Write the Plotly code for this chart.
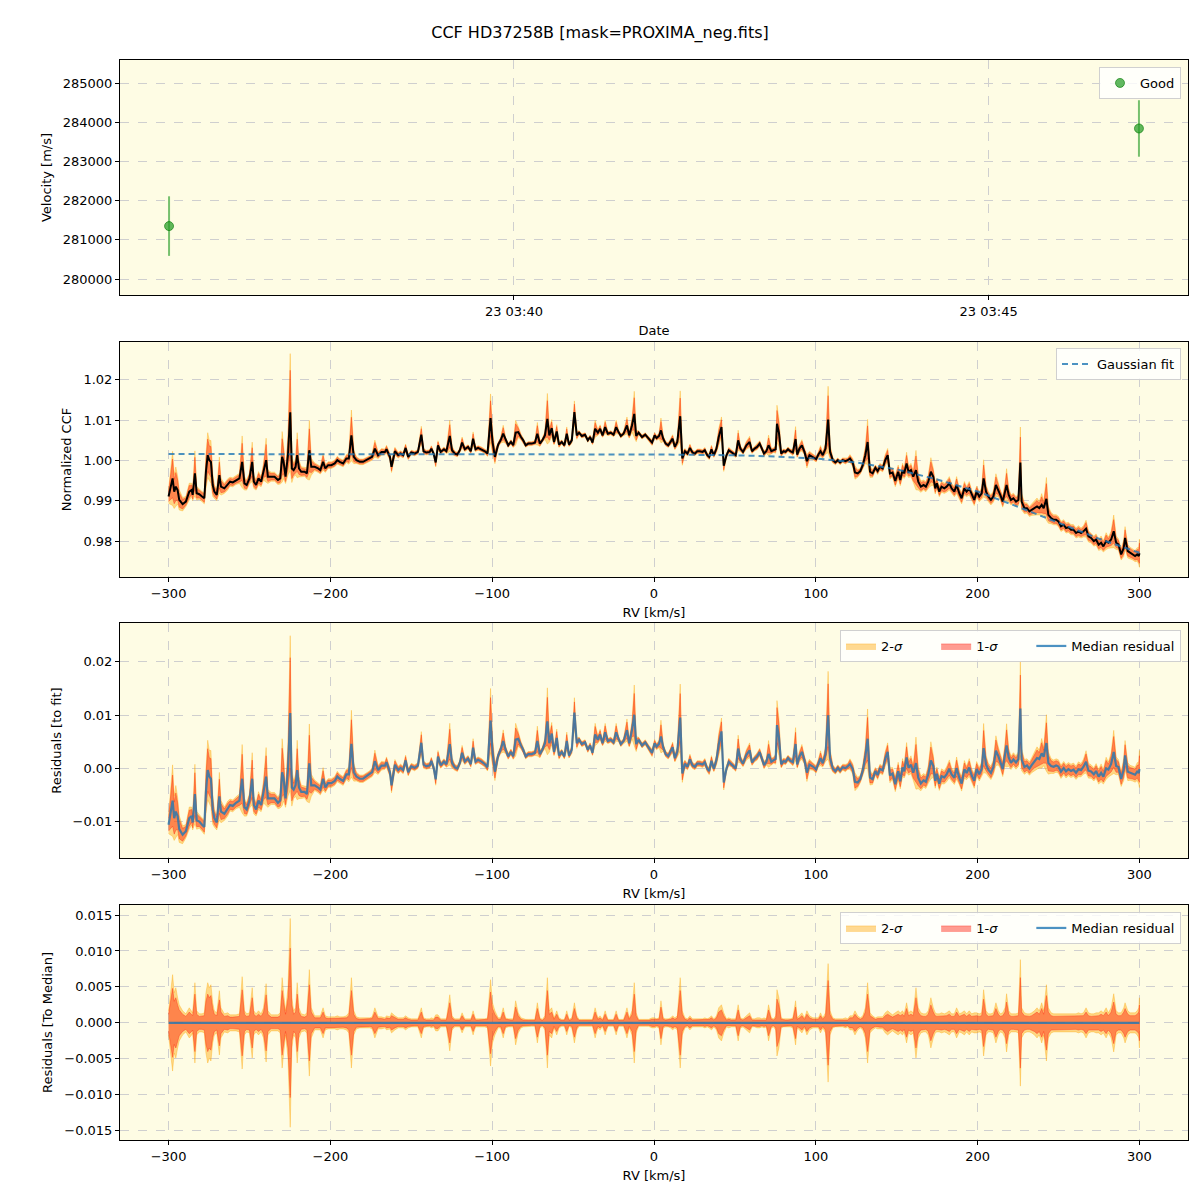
import numpy as np
import plotly.graph_objects as go

TITLE = "CCF HD37258B [mask=PROXIMA_neg.fits]"

# ---- top panel: RV time series ----
OBS_TIME = ["2021-11-23 03:36:22", "2021-11-23 03:46:35"]
OBS_VEL = [281350, 283840]
OBS_ERR = [760, 720]

# ---- CCF (median over observations): RV [km/s], (CCF-1) in per mille, 1-sigma half width in per mille ----
RV = [
    -300.0, -297.5, -296.5, -295.5, -294.4, -293.4, -291.3, -289.3, -287.2, -285.7, -285.1, -283.7, -282.6, -281.0,
    -279.3, -277.9, -276.9, -275.8, -274.8, -273.8, -272.7, -271.7, -270.2, -268.6, -267.6, -265.5, -263.4, -262.0,
    -260.3, -258.3, -256.2, -254.5, -253.1, -251.7, -250.0, -248.3, -247.3, -245.9, -244.4, -242.8, -241.3, -239.7,
    -238.6, -236.6, -234.5, -232.4, -231.0, -229.8, -228.9, -227.7, -226.2, -224.8, -223.8, -222.7, -221.5, -220.5,
    -219.4, -218.0, -215.9, -214.5, -213.0, -211.8, -209.7, -207.6, -206.2, -204.5, -203.1, -201.4, -199.4, -197.3,
    -195.7, -194.2, -192.1, -190.1, -188.6, -187.0, -185.5, -183.9, -181.8, -179.8, -177.7, -175.6, -174.2, -172.5,
    -170.5, -168.4, -166.3, -165.3, -163.2, -162.2, -160.1, -158.1, -156.6, -155.0, -153.5, -151.9,
    -150.0, -147.9, -145.9, -143.8, -142.4, -140.7, -138.6, -137.6, -136.2, -134.9, -133.5, -131.8, -129.8, -128.3,
    -126.2, -124.8, -123.1, -121.5, -120.0, -118.6, -116.9, -114.9, -113.2, -111.8, -110.3, -108.7, -106.6, -104.5,
    -102.9, -101.0, -99.8, -98.3, -96.3, -94.8, -93.2, -91.7, -90.1, -88.4, -87.0, -85.5, -83.9, -82.2, -80.8,
    -79.3, -77.7, -75.6, -73.6, -72.1, -70.5, -69.0, -67.4, -65.9, -64.7, -63.2, -61.8, -60.1, -58.7, -57.0, -55.4,
    -53.9, -52.5, -50.8, -49.2, -47.7, -46.3, -44.6, -42.6, -40.9, -39.5, -38.0, -36.4, -34.7, -33.3, -31.8, -30.2,
    -28.5, -26.7, -25.0, -23.4, -21.9, -20.5, -18.8, -16.7, -15.3, -13.6, -12.2, -11.0, -9.5, -7.4, -5.4, -3.3,
    -1.2, 0.4,
    1.6, 3.1, 4.3, 5.7, 7.2, 8.8, 10.3, 11.5, 12.9, 14.4, 16.2, 17.5, 19.1, 20.7, 22.2, 23.8, 25.3, 26.7, 28.3, 30.0,
    31.4, 32.9, 34.1, 35.5, 37.0, 38.6, 40.0, 41.7, 43.1, 44.8, 46.2, 47.8, 49.3, 50.5, 52.0, 53.4, 55.0, 57.1, 59.1,
    60.6, 62.2, 63.7, 65.3, 66.7, 68.0, 69.4, 70.8, 72.5, 73.9, 75.2, 76.0, 77.2, 78.6, 80.1, 81.3, 82.8, 84.2, 85.8,
    87.5, 88.5, 89.9, 91.4, 93.0, 94.5, 96.1, 98.2, 100.2, 101.6, 102.9, 104.3, 106.0, 107.6, 108.8, 110.5, 112.1,
    113.6, 115.0, 116.6, 118.3, 119.7, 121.1, 122.8, 124.2, 125.9, 127.5, 129.0, 130.6, 132.0, 133.5, 135.1, 136.8,
    138.2, 139.6, 141.3, 142.9, 144.4, 145.8, 147.4, 149.1,
    150.9, 152.2, 153.6, 154.6, 156.1, 157.3, 158.8, 160.2, 161.9, 163.3, 164.9, 166.6, 168.0, 169.5, 171.1, 172.6,
    173.8, 174.8, 176.3, 177.7, 179.4, 180.8, 182.5, 183.9, 185.6, 187.0, 188.7, 190.1, 191.8, 193.2, 194.8, 196.3,
    197.9, 199.4, 201.0, 202.5, 203.7, 205.2, 206.6, 208.2, 209.7, 211.3, 212.8, 214.0, 215.5, 216.9, 217.9, 219.2,
    220.6, 222.1, 223.7, 225.2, 226.4, 227.2, 228.9, 230.5, 232.0, 233.4, 235.1, 236.7, 238.1, 239.6, 240.8, 242.5,
    243.7, 245.4, 247.0, 248.5, 249.9, 251.5, 253.2, 254.6, 256.1, 257.7, 259.2, 260.8, 262.3, 263.9, 265.4, 267.0,
    268.5, 270.1, 271.8, 273.2, 274.8, 276.3, 277.7, 279.4, 280.8, 282.5, 284.1, 285.6, 287.0, 288.7, 290.3, 291.1,
    292.8, 294.2, 295.9, 297.3, 298.6, 299.6, 300.0,
]
CCF_PERMIL = [
    -8.95, -4.43, -7.72, -6.49, -7.31, -9.77, -10.84, -10.18, -7.72, -7.31, -8.54, -3.20, -8.13, -8.37,
    -8.95, -9.36, -2.79, 1.31, 0.08, -0.33, -6.08, -7.72, -8.54, -3.61, -6.49, -6.90, -5.91, -5.25,
    -5.42, -4.84, -4.43, -0.33, -5.67, -6.08, -4.43, -0.33, -5.25, -6.08, -4.43, -5.25, -2.79, 0.08,
    -4.02, -4.02, -4.02, -4.84, -4.43, 0.90, -0.33, -4.02, 1.31, 11.99, -1.97, -2.38, -1.56, 1.31,
    -1.97, -2.79, -2.79, -3.20, 2.55, -1.56, -1.56, -1.97, -2.38, -0.33, -1.97, -1.15, -1.15, -0.74,
    0.08, -0.33, -0.74, 0.49, 0.49, 6.24, 0.90, 0.08, -0.33, -0.33, 0.08, 0.49, 0.90, 2.96,
    1.31, 2.13, 2.13, 2.79, 0.90, -1.56, 2.30, 1.31, 1.72, 1.31, 3.12, 0.90,
    2.00, 1.72, 2.13, 6.40, 2.30, 1.97, 2.13, 2.96, 1.72, -0.49, 3.78, 2.13, 2.79, 2.30,
    6.08, 2.55, 1.72, 1.48, 2.55, 4.43, 2.79, 3.37, 2.30, 5.42, 2.79, 3.12, 2.79, 2.30,
    1.72, 10.51, 4.60, 0.90, 3.94, 5.01, 6.65, 5.01, 3.78, 4.60, 3.78, 6.90, 7.06, 5.83, 5.01,
    3.78, 4.19, 4.19, 4.43, 6.65, 4.19, 5.01, 6.24, 10.35, 6.24, 8.05, 4.60, 7.22, 3.94, 4.60, 3.78,
    6.65, 3.94, 5.01, 11.99, 6.24, 6.90, 6.08, 6.40, 5.01, 5.83, 4.43, 7.88, 6.90, 7.88, 6.24, 8.29,
    6.65, 6.90, 6.40, 8.29, 7.06, 6.08, 6.65, 8.70, 6.24, 8.70, 11.58, 6.08, 6.90, 5.83, 6.40, 5.42,
    4.43, 6.24,
    5.58, 6.08, 7.47, 5.42, 4.19, 3.78, 4.60, 5.42, 3.37, 4.60, 10.99, 0.49, 2.30, 1.72, 3.12, 1.97, 1.72, 2.30, 2.30, 2.13,
    2.55, 1.31, 0.90, 2.79, 1.31, 2.96, 5.83, 8.29, -1.31, 1.31, 2.55, 2.13, 1.72, 1.31, 5.01, 2.96, 2.13, 3.78, 4.60,
    2.30, 2.96, 3.37, 4.19, 2.96, 1.72, 2.30, 3.78, 2.30, 2.55, 2.79, 9.11, 6.90, 1.72, 2.30, 2.13, 2.79, 2.30, 1.97,
    5.34, 1.48, 2.96, 3.78, 2.13, -0.16, 1.31, 0.90, 0.33, 1.48, 2.30, 1.31, 2.96, 10.18, 2.13, 0.08, -0.49,
    0.08, -0.49, 0.08, -0.16, 0.08, 0.49, -0.49, -2.96, -3.20, -2.63, -1.15, 1.31, 4.60, -2.79, -3.20, -1.81,
    -2.63, -1.56, -1.97, 0.08, 1.31, -3.20, -2.96, -5.09,
    -2.79, -4.84, -2.38, -3.20, -0.74, -2.79, -2.38, -4.02, -2.38, -5.25, -6.49, -6.08, -6.49, -5.25, -2.79, -4.02,
    -6.90, -5.67, -7.72, -6.49, -6.90, -6.49, -5.67, -6.90, -7.72, -6.08, -8.13, -9.36, -6.90, -7.72, -6.90, -8.54,
    -9.77, -7.72, -8.95, -8.13, -4.43, -7.72, -8.95, -9.77, -8.95, -6.08, -7.31, -8.54, -10.18, -7.72, -6.08, -8.54,
    -9.77, -9.36, -10.18, -9.77, -0.49, -10.18, -11.82, -11.82, -12.64, -12.23, -11.82, -11.41, -11.82, -11.00, -11.82, -9.52,
    -13.46, -14.29, -14.70, -14.70, -15.11, -16.34, -15.93, -16.75, -16.58, -17.16, -17.16, -17.98, -17.57, -17.98, -17.57, -16.91,
    -18.80, -19.20, -20.00, -19.60, -20.90, -20.40, -21.30, -20.00, -20.40, -19.60, -17.57, -20.40, -20.80, -23.30, -21.70, -19.20,
    -22.50, -22.90, -23.30, -23.70, -23.30, -23.70, -23.00,
]
SIG1_PERMIL = [
    1.2, 4.8, 3.0, 3.5, 2.5, 1.8, 1.2, 0.9, 1.5, 1.2, 1.0, 4.0, 1.2, 0.9,
    0.9, 1.0, 3.0, 4.0, 3.5, 3.8, 2.0, 1.2, 1.0, 3.2, 1.5, 0.9, 1.0, 0.8,
    0.8, 0.8, 0.9, 4.6, 1.2, 0.9, 1.0, 3.5, 1.2, 0.9, 1.2, 0.9, 1.5, 3.9,
    1.2, 0.8, 0.8, 0.8, 1.0, 4.5, 3.0, 1.2, 3.5, 10.4, 2.5, 1.2, 1.5, 4.0,
    1.5, 0.9, 0.8, 1.0, 5.3, 1.5, 0.7, 0.7, 0.7, 1.5, 0.7, 0.6, 0.6, 0.6,
    0.7, 0.6, 0.6, 0.7, 1.0, 4.5, 1.2, 0.6, 0.5, 0.5, 0.5, 0.5, 0.6, 1.5,
    0.6, 0.6, 0.5, 0.7, 0.6, 1.0, 0.7, 0.5, 0.5, 0.5, 0.7, 0.5,
    0.4, 0.4, 0.4, 1.5, 0.5, 0.4, 0.4, 0.5, 0.4, 0.8, 0.8, 0.4, 0.4, 0.4,
    2.8, 0.7, 0.4, 0.4, 0.4, 1.0, 0.4, 0.4, 0.4, 1.2, 0.4, 0.4, 0.4, 0.4,
    0.5, 4.3, 2.0, 1.2, 0.5, 0.5, 1.5, 0.5, 0.4, 0.4, 0.4, 2.2, 1.0, 0.5, 0.4,
    0.35, 0.35, 0.35, 0.35, 2.0, 0.5, 0.35, 0.7, 4.5, 1.2, 1.5, 0.5, 1.2, 0.5, 0.35, 0.35,
    1.2, 0.35, 0.5, 2.0, 0.7, 0.35, 0.35, 0.35, 0.35, 0.35, 0.35, 1.5, 0.5, 0.7, 0.35, 1.2,
    0.35, 0.35, 0.35, 1.2, 0.35, 0.35, 0.35, 1.5, 0.5, 1.2, 4.0, 1.0, 0.35, 0.35, 0.35, 0.35,
    0.5, 0.5,
    0.4, 0.5, 2.2, 0.5, 0.4, 0.4, 0.5, 0.7, 0.5, 0.7, 4.5, 1.2, 0.5, 0.4, 0.7, 0.4, 0.4, 0.4, 0.4, 0.4,
    0.5, 0.4, 0.5, 0.7, 0.4, 0.7, 1.5, 1.8, 1.0, 0.4, 0.5, 0.4, 0.4, 0.4, 1.8, 0.5, 0.4, 0.7, 1.0,
    0.4, 0.4, 0.5, 0.5, 0.4, 0.5, 0.4, 1.8, 0.5, 0.4, 0.7, 3.3, 2.5, 0.5, 0.4, 0.4, 0.4, 0.4, 0.5,
    2.2, 0.5, 0.7, 1.0, 0.5, 1.2, 0.7, 0.5, 0.5, 0.5, 1.0, 0.5, 1.0, 5.9, 1.2, 0.5, 0.4,
    0.4, 0.4, 0.4, 0.5, 0.4, 0.7, 0.7, 1.2, 0.7, 0.5, 0.7, 1.5, 4.0, 1.0, 0.7, 0.5,
    0.6, 0.6, 0.6, 1.0, 1.2, 1.0, 0.8, 1.0,
    1.2, 1.0, 1.2, 0.9, 2.0, 1.0, 1.2, 1.0, 3.5, 1.5, 1.0, 0.9, 0.9, 1.2, 2.5, 1.5,
    1.0, 0.9, 0.9, 1.0, 0.9, 1.0, 1.2, 0.9, 0.9, 1.5, 0.9, 1.0, 1.2, 0.9, 1.2, 0.9,
    1.0, 1.0, 0.9, 1.0, 3.3, 1.2, 0.9, 0.9, 1.0, 2.0, 1.2, 0.9, 1.0, 1.5, 2.9, 1.2,
    0.9, 0.9, 0.9, 1.0, 6.3, 1.5, 1.0, 0.9, 0.9, 1.0, 1.2, 1.5, 1.2, 2.0, 1.2, 3.8,
    1.5, 1.0, 0.9, 0.9, 0.9, 0.9, 0.9, 0.9, 0.9, 0.9, 0.9, 0.9, 1.0, 0.9, 1.0, 1.5,
    1.0, 0.9, 0.9, 1.0, 1.0, 1.2, 1.0, 1.5, 1.0, 1.5, 2.9, 1.2, 1.0, 1.0, 1.5, 2.0,
    1.2, 1.0, 1.0, 1.0, 1.2, 1.5, 2.5,
]

# ---- Gaussian fit curve ----
FIT_RV = [-300, -275, -250, -225, -200, -175, -150, -125, -100, -75, -50, -25, 0,
          25, 50, 75, 100, 125, 150, 175, 200, 225, 250, 275, 300]
FIT_CCF = [1.0016, 1.0016, 1.0016, 1.0016, 1.0016, 1.0016, 1.0016, 1.0015, 1.0015, 1.0015, 1.0015, 1.0015, 1.0015,
           1.0014, 1.0013, 1.0010, 1.0005, 0.9995, 0.9978, 0.9953, 0.9923, 0.9885, 0.9845, 0.9806, 0.9771]

# ---- derived quantities ----
rv = np.array(RV)
ccf = 1.0 + np.array(CCF_PERMIL) / 1000.0
s1 = np.array(SIG1_PERMIL) / 1000.0
s2 = s1 * (0.475 / 0.34)  # 2.5-97.5 vs 16-84 percentile half widths
fit_at_rv = np.interp(rv, FIT_RV, FIT_CCF)
res = ccf - fit_at_rv

BG = "#FEFCE4"
C2 = "rgba(255,165,0,0.42)"
C1 = "rgba(255,20,0,0.42)"
BLUE = "rgba(31,119,180,0.8)"
FONT = "DejaVu Sans"
NB = "\u00a0" * 7

fig = go.Figure()


def band(center, half, color, name, xa, ya, legend, show):
    xs = np.concatenate([rv, rv[::-1]])
    ys = np.concatenate([center + half, (center - half)[::-1]])
    fig.add_trace(go.Scatter(x=xs, y=ys, fill="toself", fillcolor=color, mode="lines",
                             line=dict(color=color, width=0.8), name=name, xaxis=xa, yaxis=ya,
                             legend=legend, showlegend=show, hoverinfo="skip"))


# panel 1
fig.add_trace(go.Scatter(x=OBS_TIME, y=OBS_VEL, mode="markers", name="Good",
                         marker=dict(color="rgba(44,160,44,0.75)", size=9,
                                     line=dict(color="rgba(0,120,0,0.6)", width=1)),
                         error_y=dict(type="data", array=OBS_ERR, color="rgba(44,160,44,0.65)",
                                      thickness=2, width=0),
                         xaxis="x", yaxis="y", legend="legend", showlegend=True))

# panel 2
band(ccf, s2, C2, "2-σ", "x2", "y2", "legend2", False)
band(ccf, s1, C1, "1-σ", "x2", "y2", "legend2", False)
fig.add_trace(go.Scatter(x=rv, y=ccf, mode="lines", line=dict(color="black", width=2),
                         xaxis="x2", yaxis="y2", showlegend=False, legend="legend2"))
fig.add_trace(go.Scatter(x=FIT_RV, y=FIT_CCF, mode="lines", name="Gaussian fit",
                         line=dict(color=BLUE, width=2, dash="6px,4px"),
                         xaxis="x2", yaxis="y2", legend="legend2"))

# panel 3
band(res, s2, C2, "2-<i>σ</i>" + NB, "x3", "y3", "legend3", True)
band(res, s1, C1, "1-<i>σ</i>" + NB, "x3", "y3", "legend3", True)
fig.add_trace(go.Scatter(x=rv, y=res, mode="lines", name="Median residual",
                         line=dict(color=BLUE, width=2.2), xaxis="x3", yaxis="y3", legend="legend3"))

# panel 4
zero = np.zeros_like(rv)
band(zero, s2, C2, "2-<i>σ</i>" + NB, "x4", "y4", "legend4", True)
band(zero, s1, C1, "1-<i>σ</i>" + NB, "x4", "y4", "legend4", True)
fig.add_trace(go.Scatter(x=rv, y=zero, mode="lines", name="Median residual",
                         line=dict(color=BLUE, width=2.2), xaxis="x4", yaxis="y4", legend="legend4"))

axis_common = dict(showline=True, linecolor="black", linewidth=1, mirror=True, ticks="outside",
                   ticklen=4, tickcolor="black", showgrid=True, gridcolor="#cfcfcf", griddash="dash",
                   gridwidth=1, zeroline=False, tickfont=dict(size=13, color="black", family=FONT),
                   title_font=dict(size=13, color="black", family=FONT))

H = 1200.0
def ydom(top, bot):
    return [1 - bot / H, 1 - top / H]

xdom = [120 / 1200, 1188 / 1200]
rv_axis = dict(range=[-330, 330], tickvals=[-300, -200, -100, 0, 100, 200, 300],
               title=dict(text="RV [km/s]", standoff=8), **axis_common)

legend_common = dict(bgcolor="rgba(255,255,255,0.8)", bordercolor="#d0d0d0", borderwidth=1,
                     font=dict(size=13, color="black", family=FONT), xanchor="right", yanchor="top")

fig.update_layout(
    width=1200, height=1200,
    margin=dict(l=0, r=0, t=0, b=0),
    paper_bgcolor="white", plot_bgcolor=BG,
    showlegend=True,
    font=dict(family=FONT, size=13, color="black"),
    title=dict(text=TITLE, x=0.5, xanchor="center", y=1 - 32 / H, yanchor="middle",
               font=dict(size=16, family=FONT, color="black")),
    xaxis=dict(domain=xdom, anchor="y", type="date",
               range=["2021-11-23 03:35:51", "2021-11-23 03:47:06"],
               tickvals=["2021-11-23 03:40:00", "2021-11-23 03:45:00"], tickformat="%d %H:%M",
               title=dict(text="Date", standoff=8), **axis_common),
    yaxis=dict(domain=ydom(60, 295), anchor="x", range=[279592, 285587],
               tickvals=[280000, 281000, 282000, 283000, 284000, 285000], tickformat="d",
               title=dict(text="Velocity [m/s]", standoff=8), **axis_common),
    xaxis2=dict(domain=xdom, anchor="y2", **rv_axis),
    yaxis2=dict(domain=ydom(342, 577), anchor="x2", range=[0.9711, 1.0294],
                tickvals=[0.98, 0.99, 1.00, 1.01, 1.02], tickformat=".2f",
                title=dict(text="Normalized CCF", standoff=8), **axis_common),
    xaxis3=dict(domain=xdom, anchor="y3", **rv_axis),
    yaxis3=dict(domain=ydom(623, 858), anchor="x3", range=[-0.0168, 0.0273],
                tickvals=[-0.01, 0.0, 0.01, 0.02], tickformat=".2f",
                title=dict(text="Residuals [to fit]", standoff=8), **axis_common),
    xaxis4=dict(domain=xdom, anchor="y4", **rv_axis),
    yaxis4=dict(domain=ydom(905, 1140), anchor="x4", range=[-0.0163, 0.0164],
                tickvals=[-0.015, -0.01, -0.005, 0.0, 0.005, 0.01, 0.015], tickformat=".3f",
                title=dict(text="Residuals [To Median]", standoff=8), **axis_common),
    legend=dict(x=1181 / 1200, y=1 - 67 / H, **legend_common),
    legend2=dict(x=1181 / 1200, y=1 - 348 / H, **legend_common),
    legend3=dict(x=1181 / 1200, y=1 - 630 / H, orientation="h", **legend_common),
    legend4=dict(x=1181 / 1200, y=1 - 912 / H, orientation="h", **legend_common),
)

fig.write_html("out.html")
